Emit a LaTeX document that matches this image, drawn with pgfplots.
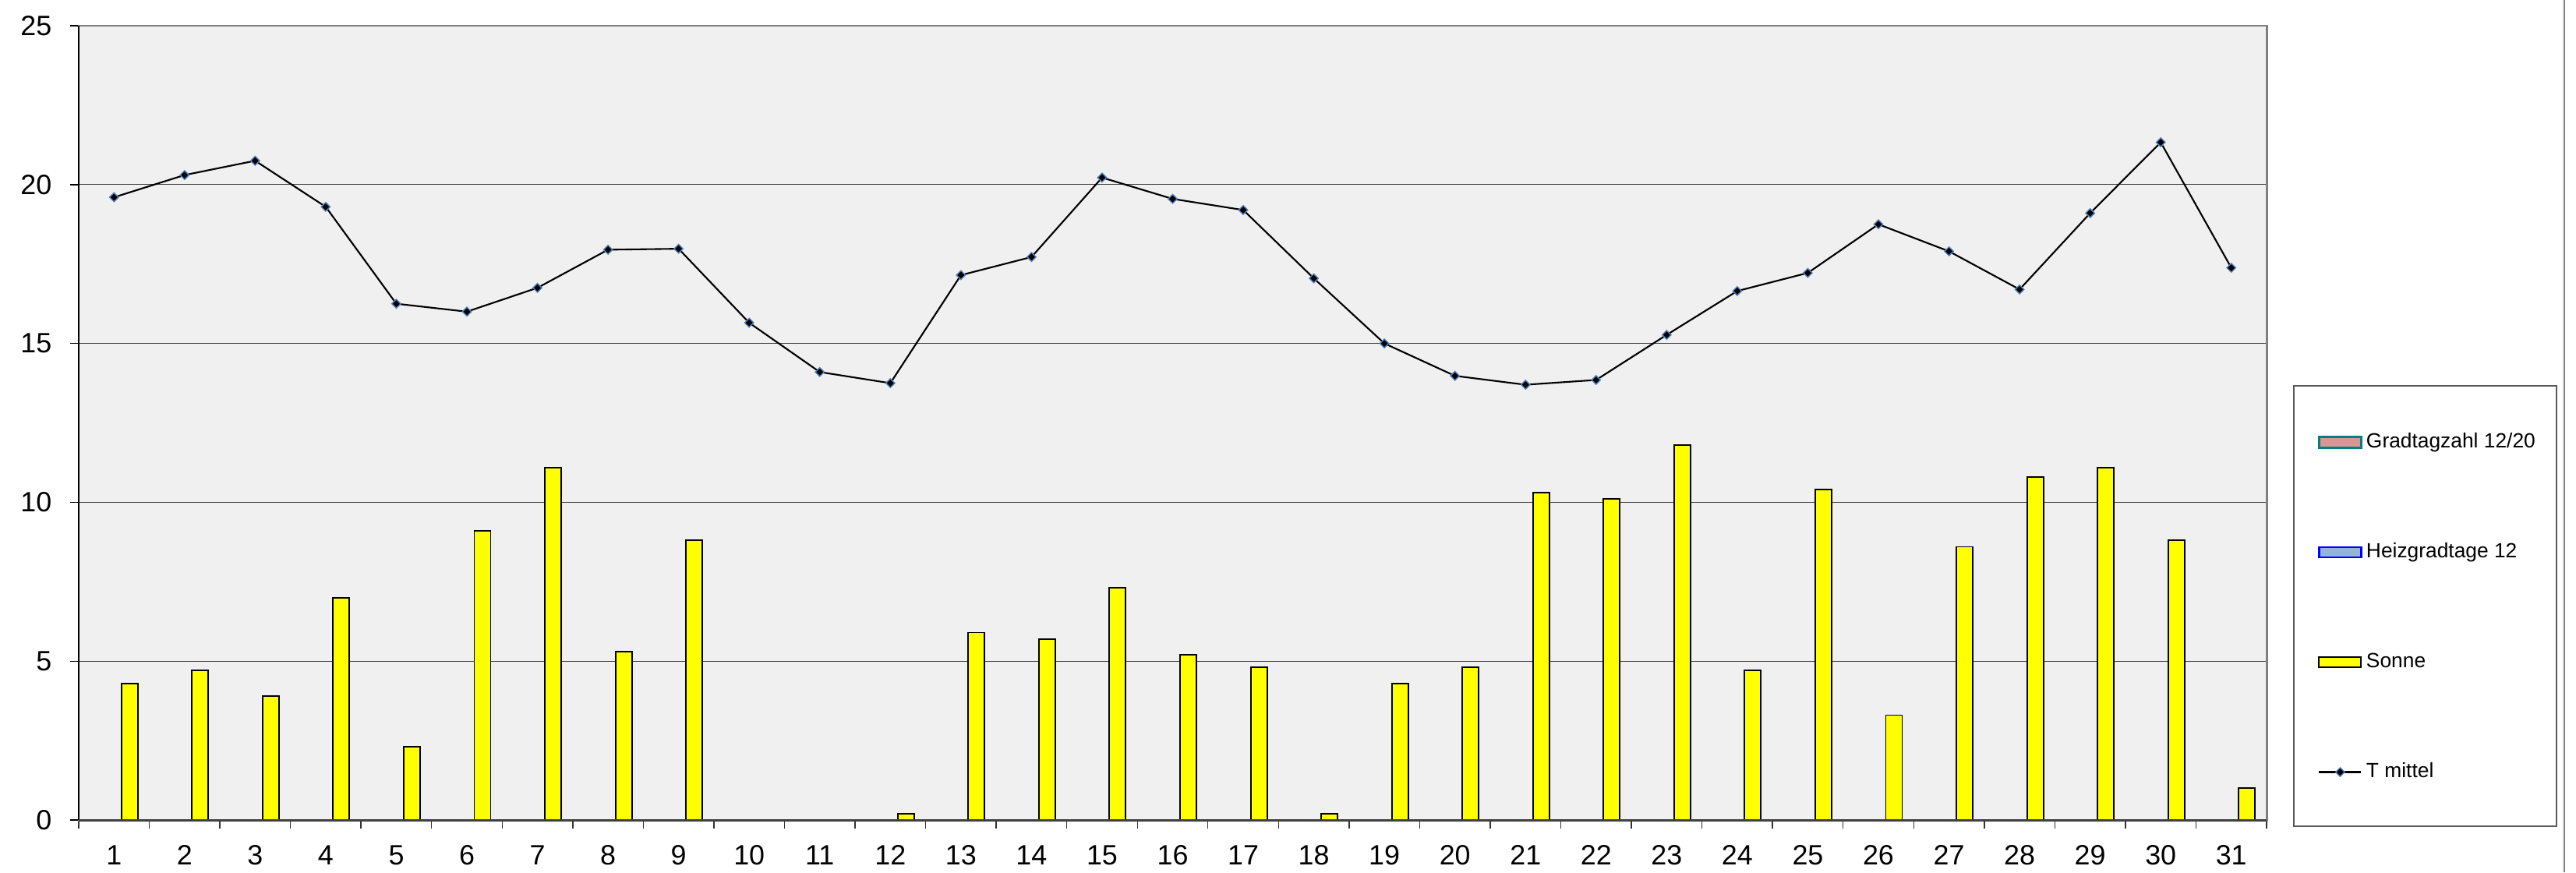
\documentclass[border=0pt]{standalone}
\usepackage{fontspec}
\setmainfont{Liberation Sans}
\usepackage{pgfplots}
\pgfplotsset{compat=1.18}
\definecolor{plotbg}{HTML}{F0F0F0}
\definecolor{framegray}{HTML}{808080}
\definecolor{gradfill}{HTML}{D99694}
\definecolor{gradedge}{HTML}{008080}
\definecolor{heizfill}{HTML}{95B3D7}
\definecolor{heizedge}{HTML}{0000FF}
\definecolor{sonnefill}{HTML}{FFFF00}
\definecolor{markblue}{HTML}{4F81BD}
\pgfplotsset{
  barlegend/.style={legend image code/.code={\draw[##1] (0mm,0.05mm) rectangle (5.4mm,1.4mm);}},
  linelegend/.style={legend image code/.code={\draw[##1, mark repeat=2, mark phase=2] plot coordinates {(0mm,0.72mm) (2.7mm,0.72mm) (5.4mm,0.72mm)};}},
}
\begin{document}
\begin{tikzpicture}
\useasboundingbox (0,0) rectangle (330.5mm,111.9mm);
\begin{axis}[
  at={(10.1mm,6.7mm)}, anchor=south west,
  scale only axis, width=280.7mm, height=101.9mm,
  xmin=0.5, xmax=31.5, ymin=0, ymax=25,
  xtick={1,...,31},
  minor xtick={0.5,1.5,...,31.5},
  ytick={0,5,10,15,20,25},
  xtick pos=bottom, ytick pos=left,
  tick align=outside,
  major tick length=1.1mm, minor tick length=1.1mm,
  major x tick style={draw=none},
  minor x tick style={black!80, line width=0.4pt},
  major y tick style={black, line width=0.4pt},
  axis background/.style={fill=plotbg},
  axis line style={draw=framegray, line width=0.85pt},
  ymajorgrids, grid style={black!75, line width=0.35pt},
  /pgf/number format/assume math mode=true,
  tick label style={font=\fontsize{10.2}{12}\selectfont},
  xticklabel style={anchor=north, inner sep=0pt, yshift=-2.1mm},
  yticklabel style={anchor=east, inner sep=0pt, xshift=-2.3mm},
  legend style={at={(axis description cs:1.0232,0.4887)}, anchor=north west,
    draw=none, fill=none, inner sep=0pt, row sep=11.6mm, column sep=0.5mm,
    font=\fontsize{7.5}{9}\selectfont,
    nodes={inner sep=0pt, text height=2mm, text depth=0.5mm, anchor=base west}},
  legend cell align=left,
  clip=false,
]
\addlegendimage{barlegend, fill=gradfill, draw=gradedge, line width=0.9pt}
\addlegendentry{Gradtagzahl 12/20}
\addlegendimage{barlegend, fill=heizfill, draw=heizedge, line width=0.7pt}
\addlegendentry{Heizgradtage 12}
\addplot[ybar, bar width=2.1mm, bar shift=2.0mm, fill=sonnefill, draw=black, line width=0.55pt, barlegend] coordinates {
(1,4.3) (2,4.7) (3,3.9) (4,7.0) (5,2.3) (6,9.1) (7,11.1) (8,5.3) (9,8.8) (10,0) (11,0)
(12,0.2) (13,5.9) (14,5.7) (15,7.3) (16,5.2) (17,4.8) (18,0.2) (19,4.3) (20,4.8) (21,10.3)
(22,10.1) (23,11.8) (24,4.7) (25,10.4) (26,3.3) (27,8.6) (28,10.8) (29,11.1) (30,8.8) (31,1.0)
};
\addlegendentry{Sonne}
\addplot[black, line width=0.6pt, mark=square*, mark size=0.4mm,
  mark options={rotate=45, fill=black, draw=markblue, line width=0.4pt}, linelegend] coordinates {
(1,19.6) (2,20.3) (3,20.75) (4,19.3) (5,16.25) (6,16.0) (7,16.75) (8,17.95) (9,17.98) (10,15.65)
(11,14.1) (12,13.75) (13,17.15) (14,17.72) (15,20.22) (16,19.55) (17,19.2) (18,17.05) (19,15.0) (20,13.98)
(21,13.7) (22,13.85) (23,15.27) (24,16.65) (25,17.22) (26,18.75) (27,17.9) (28,16.7) (29,19.1) (30,21.33)
(31,17.38)
};
\addlegendentry{T mittel}
\draw[black, line width=0.6pt] (rel axis cs:0,0) -- (rel axis cs:0,1);
\draw[black!75, line width=0.85pt] (rel axis cs:0,0) -- (rel axis cs:1,0);
\end{axis}
\draw[black!65, line width=0.5pt] (294.3mm,5.9mm) rectangle (328mm,62.4mm);
\draw[framegray, line width=0.6pt] (329mm,0mm) -- (329mm,111.9mm);
\end{tikzpicture}
\end{document}
